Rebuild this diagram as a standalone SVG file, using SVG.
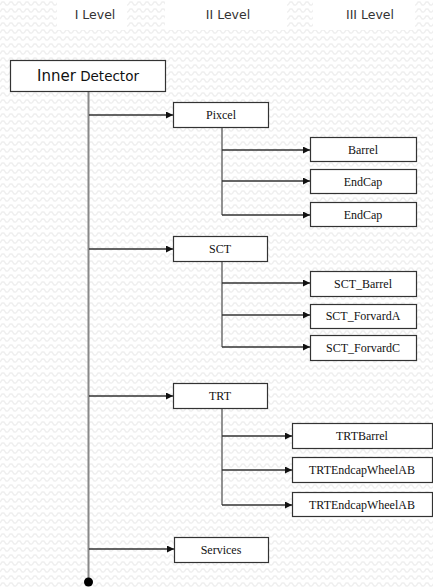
<svg xmlns="http://www.w3.org/2000/svg" width="433" height="588" viewBox="0 0 433 588">
<defs>
<pattern id="zz" width="8" height="7" patternUnits="userSpaceOnUse">
<path d="M0,5 L2,2 L4,2 L6,5 L8,5" fill="none" stroke="#efefef" stroke-width="1.4"/>
</pattern>
<marker id="ah" viewBox="0 0 10 10" refX="10" refY="5" markerWidth="9" markerHeight="7" markerUnits="userSpaceOnUse" orient="auto">
<path d="M0,0 L10,5 L0,10 Z" fill="#111"/>
</marker>
<style>
.box{fill:#fff;stroke:#333;stroke-width:1.2}
.t{font-family:"Liberation Serif","Times New Roman",serif;font-size:12px;fill:#111;text-anchor:middle}
.h{font-family:"DejaVu Sans","Liberation Sans",sans-serif;font-size:12.5px;fill:#333;text-anchor:middle}
.trunk{stroke:#888;stroke-width:2;fill:none}
.sub{stroke:#777;stroke-width:1.6;fill:none}
.arr{stroke:#333;stroke-width:1.3;fill:none;marker-end:url(#ah)}
</style>
</defs>
<rect width="433" height="588" fill="#fff"/>
<rect width="433" height="588" fill="url(#zz)"/>
<g id="headers">
<rect x="57" y="0" width="70" height="30" fill="#fff"/>
<rect x="165" y="0" width="122" height="30" fill="#fff"/>
<rect x="313" y="0" width="102" height="30" fill="#fff"/>
<text class="h" x="95" y="19">I Level</text>
<text class="h" x="228" y="19">II Level</text>
<text class="h" x="370" y="19">III Level</text>
</g>
<g id="connectors">
<line class="trunk" x1="88.5" y1="92" x2="88.5" y2="582"/>
<circle cx="88.5" cy="582" r="4.5" fill="#000"/>
<line class="arr" x1="89" y1="115" x2="173" y2="115"/>
<line class="arr" x1="89" y1="249" x2="173" y2="249"/>
<line class="arr" x1="89" y1="396" x2="173" y2="396"/>
<line class="arr" x1="89" y1="549" x2="174" y2="549"/>
<line class="sub" x1="222" y1="128" x2="222" y2="215"/>
<line class="arr" x1="222" y1="150" x2="310" y2="150"/>
<line class="arr" x1="222" y1="181" x2="310" y2="181"/>
<line class="arr" x1="222" y1="215" x2="310" y2="215"/>
<line class="sub" x1="222" y1="262" x2="222" y2="347"/>
<line class="arr" x1="222" y1="283" x2="310" y2="283"/>
<line class="arr" x1="222" y1="315" x2="310" y2="315"/>
<line class="arr" x1="222" y1="347" x2="310" y2="347"/>
<line class="sub" x1="222" y1="409" x2="222" y2="505"/>
<line class="arr" x1="222" y1="436" x2="292" y2="436"/>
<line class="arr" x1="222" y1="470" x2="292" y2="470"/>
<line class="arr" x1="222" y1="505" x2="292" y2="505"/>
</g>
<g id="inner-detector">
<rect class="box" x="10.5" y="60.5" width="155" height="31"/>
<text x="88" y="81" font-family="DejaVu Sans,Liberation Sans,sans-serif" fill="#111" text-anchor="middle"><tspan font-size="15">Inner</tspan><tspan font-size="13.5"> Detector</tspan></text>
</g>
<g id="pixcel"><rect class="box" x="173.5" y="102.5" width="95" height="25"/><text class="t" x="221" y="119">Pixcel</text></g>
<g id="barrel"><rect class="box" x="310.5" y="137.5" width="106" height="24"/><text class="t" x="363" y="154">Barrel</text></g>
<g id="endcap1"><rect class="box" x="310.5" y="169.5" width="106" height="24"/><text class="t" x="363" y="186">EndCap</text></g>
<g id="endcap2"><rect class="box" x="310.5" y="202.5" width="106" height="24"/><text class="t" x="363" y="219">EndCap</text></g>
<g id="sct"><rect class="box" x="173.5" y="236.5" width="94" height="25"/><text class="t" x="220" y="253">SCT</text></g>
<g id="sct-barrel"><rect class="box" x="310.5" y="271.5" width="106" height="25"/><text class="t" x="363" y="288">SCT_Barrel</text></g>
<g id="sct-forvarda"><rect class="box" x="310.5" y="304.5" width="106" height="24"/><text class="t" x="363" y="320">SCT_ForvardA</text></g>
<g id="sct-forvardc"><rect class="box" x="310.5" y="335.5" width="106" height="25"/><text class="t" x="363" y="352">SCT_ForvardC</text></g>
<g id="trt"><rect class="box" x="173.5" y="383.5" width="94" height="25"/><text class="t" x="220" y="400">TRT</text></g>
<g id="trtbarrel"><rect class="box" x="292.5" y="423.5" width="140" height="25"/><text class="t" x="362" y="440">TRTBarrel</text></g>
<g id="trtendcap1"><rect class="box" x="292.5" y="457.5" width="140" height="25"/><text class="t" x="362" y="474">TRTEndcapWheelAB</text></g>
<g id="trtendcap2"><rect class="box" x="292.5" y="492.5" width="140" height="24"/><text class="t" x="362" y="509">TRTEndcapWheelAB</text></g>
<g id="services"><rect class="box" x="174.5" y="537.5" width="94" height="25"/><text class="t" x="221" y="554">Services</text></g>
</svg>
